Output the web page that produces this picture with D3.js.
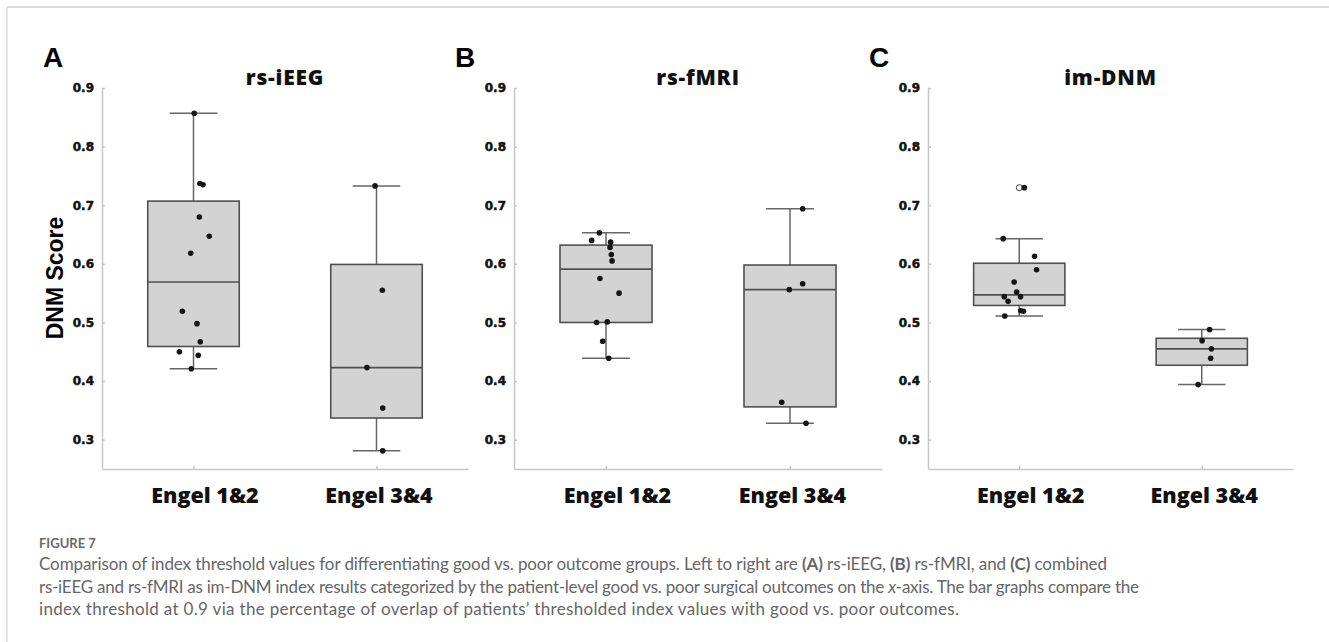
<!DOCTYPE html>
<html>
<head>
<meta charset="utf-8">
<script src="https://cdn.jsdelivr.net/npm/d3@7"></script>
<style>
	body{margin:0; background:#fff;}
</style>
</head>
<body>
<div id="chart"></div>
<script>
// categories and titles
const groups = ["Engel 1&2", "Engel 3&4"];
const panelLetters = ["A", "B", "C"];
const panelTitles = ["rs-iEEG", "rs-fMRI", "im-DNM"];
const yTicks = [0.3, 0.4, 0.5, 0.6, 0.7, 0.8, 0.9];

// box stats per group: [lower whisker, q1, median, q3, upper whisker]
const ieegStats = [[0.421, 0.459, 0.569, 0.707, 0.857], [0.281, 0.337, 0.423, 0.599, 0.733]];
const fmriStats = [[0.439, 0.500, 0.591, 0.632, 0.653], [0.328, 0.356, 0.556, 0.598, 0.694]];
const dnmStats = [[0.511, 0.529, 0.547, 0.601, 0.643], [0.394, 0.427, 0.455, 0.473, 0.488]];

// patient values and their horizontal jitter (category units) as seen in the figure
const ieegGood = [0.857, 0.737, 0.735, 0.680, 0.647, 0.618, 0.519, 0.498, 0.467, 0.450, 0.444, 0.421];
const ieegGoodJitter = [0.004, 0.035, 0.052, 0.032, 0.086, -0.015, -0.061, 0.019, 0.037, -0.077, 0.026, -0.012];
const ieegPoor = [0.733, 0.555, 0.423, 0.354, 0.281];
const ieegPoorJitter = [-0.008, 0.032, -0.052, 0.034, 0.034];

const fmriGood = [0.653, 0.640, 0.637, 0.628, 0.616, 0.605, 0.575, 0.550, 0.500, 0.501, 0.468, 0.439];
const fmriGoodJitter = [-0.036, -0.078, 0.025, 0.022, 0.029, 0.033, -0.033, 0.071, -0.051, 0.007, -0.018, 0.015];
const fmriPoor = [0.694, 0.566, 0.556, 0.364, 0.328];
const fmriPoorJitter = [0.069, 0.069, -0.004, -0.045, 0.087];

const dnmGood = [0.730, 0.643, 0.613, 0.590, 0.569, 0.552, 0.544, 0.544, 0.536, 0.520, 0.519, 0.511];
const dnmGoodJitter = [0.028, -0.088, 0.084, 0.095, -0.028, -0.014, -0.082, 0.007, -0.061, 0.008, 0.023, -0.079];
const dnmPoor = [0.488, 0.469, 0.455, 0.439, 0.394];
const dnmPoorJitter = [0.043, 0.002, 0.053, 0.049, -0.020];
const dnmGoodOutliers = [0.730];

const captionLines = [
	[["Comparison of index threshold values for differentiating good vs. poor outcome groups. Left to right are ", ""], ["(A)", "b"], [" rs-iEEG, ", ""], ["(B)", "b"], [" rs-fMRI, and ", ""], ["(C)", "b"], [" combined", ""]],
	[["rs-iEEG and rs-fMRI as im-DNM index results categorized by the patient-level good vs. poor surgical outcomes on the ", ""], ["x", "i"], ["-axis. The bar graphs compare the", ""]],
	[["index threshold at 0.9 via the percentage of overlap of patients\u2019 thresholded index values with good vs. poor outcomes.", ""]]
];

let panels = [
	{stats: ieegStats, points: [[ieegGood, ieegGoodJitter], [ieegPoor, ieegPoorJitter]], outliers: [[], []]},
	{stats: fmriStats, points: [[fmriGood, fmriGoodJitter], [fmriPoor, fmriPoorJitter]], outliers: [[], []]},
	{stats: dnmStats, points: [[dnmGood, dnmGoodJitter], [dnmPoor, dnmPoorJitter]], outliers: [dnmGoodOutliers, []]}
];

let W = 1329,
	H = 642,
	panelLeft = [102, 514, 928],
	panelRight = [468, 882, 1293],
	plotTop = 88,
	plotBottom = 469,
	axisColor = "#c6c6c6",
	boxStroke = "#505050",
	labelDx = [11, 2]; // the group labels sit a bit right of the ticks

let svg = d3.select("#chart").append("svg").attr("width", W).attr("height", H);

// figure frame: top and left rules
svg.append("line").attr("x1", 7).attr("x2", W).attr("y1", 7).attr("y2", 7)
	.attr("stroke", "#dcdcdc").attr("stroke-width", 2);
svg.append("line").attr("x1", 7).attr("x2", 7).attr("y1", 7).attr("y2", H)
	.attr("stroke", "#cfcfcf").attr("stroke-width", 1);

let y = d3.scaleLinear().domain([0.25, 0.9]).range([plotBottom, plotTop]);

panels.forEach(function(p, pi){
	let x = d3.scaleLinear().domain([0.5, 2.5]).range([panelLeft[pi], panelRight[pi]]),
		g = svg.append("g");

	// axes
	let yAxis = g.append("g")
		.attr("transform", "translate(" + panelLeft[pi] + ",0)")
		.call(d3.axisLeft(y).tickValues(yTicks).tickSize(-3).tickSizeOuter(0).tickPadding(8).tickFormat(d3.format(".1f")));
	yAxis.selectAll("path, line").attr("stroke", axisColor).attr("stroke-width", 1.5);
	yAxis.selectAll("text")
		.style("font-family", "'DejaVu Sans'")
		.style("font-weight", "bold")
		.style("font-size", "12px")
		.attr("fill", "#111")
		.attr("stroke", "#111")
		.attr("stroke-width", 0.5);

	let xAxis = g.append("g")
		.attr("transform", "translate(0," + plotBottom + ")")
		.call(d3.axisBottom(x).tickValues([1, 2]).tickSize(-3).tickSizeOuter(0).tickFormat(function(d){ return groups[d - 1]; }));
	xAxis.selectAll("path, line").attr("stroke", axisColor).attr("stroke-width", 1.5);
	xAxis.selectAll("text")
		.attr("y", 34)
		.attr("dy", 0)
		.attr("dx", function(d){ return labelDx[d - 1]; })
		.style("font-family", "'Open Sans'")
		.style("font-weight", "800")
		.style("font-size", "21.5px")
		.attr("fill", "#111");

	// titles
	g.append("text")
		.attr("x", (panelLeft[pi] + panelRight[pi]) / 2)
		.attr("y", 85)
		.attr("text-anchor", "middle")
		.style("font-family", "'Open Sans'")
		.style("font-weight", "800")
		.style("font-size", "21px")
		.style("letter-spacing", "0.8px")
		.attr("fill", "#111")
		.text(panelTitles[pi]);

	g.append("text")
		.attr("x", panelLeft[pi] - 59)
		.attr("y", 67)
		.style("font-family", "'Liberation Sans'")
		.style("font-weight", "bold")
		.style("font-size", "28px")
		.attr("fill", "#000")
		.text(panelLetters[pi]);

	// boxes
	p.stats.forEach(function(s, gi){
		let c = gi + 1,
			bg = g.append("g");
		bg.append("line").attr("x1", x(c)).attr("x2", x(c)).attr("y1", y(s[0])).attr("y2", y(s[1]))
			.attr("stroke", "#666").attr("stroke-width", 1.5);
		bg.append("line").attr("x1", x(c)).attr("x2", x(c)).attr("y1", y(s[3])).attr("y2", y(s[4]))
			.attr("stroke", "#666").attr("stroke-width", 1.5);
		[s[0], s[4]].forEach(function(v){
			bg.append("line").attr("x1", x(c - 0.13)).attr("x2", x(c + 0.13)).attr("y1", y(v)).attr("y2", y(v))
				.attr("stroke", "#666").attr("stroke-width", 1.5);
		});
		bg.append("rect")
			.attr("x", x(c - 0.25))
			.attr("y", y(s[3]))
			.attr("width", x(c + 0.25) - x(c - 0.25))
			.attr("height", y(s[1]) - y(s[3]))
			.attr("fill", "#d3d3d3")
			.attr("stroke", boxStroke)
			.attr("stroke-width", 1.6);
		bg.append("line").attr("x1", x(c - 0.25)).attr("x2", x(c + 0.25)).attr("y1", y(s[2])).attr("y2", y(s[2]))
			.attr("stroke", boxStroke).attr("stroke-width", 1.6);

		p.outliers[gi].forEach(function(v){
			bg.append("circle").attr("cx", x(c)).attr("cy", y(v)).attr("r", 3)
				.attr("fill", "#fff").attr("stroke", "#444").attr("stroke-width", 1);
		});

		let vals = p.points[gi][0], jit = p.points[gi][1];
		vals.forEach(function(v, vi){
			bg.append("circle")
				.attr("cx", x(c + jit[vi]))
				.attr("cy", y(v))
				.attr("r", 2.8)
				.attr("fill", "#151515");
		});
	});
});

// y label, only on the first panel
svg.append("text")
	.attr("transform", "translate(63,278) rotate(-90)")
	.attr("text-anchor", "middle")
	.style("font-family", "'Liberation Sans'")
	.style("font-weight", "bold")
	.style("font-size", "23px")
	.attr("fill", "#000")
	.text("DNM Score");

// caption
svg.append("text")
	.attr("x", 39).attr("y", 548)
	.style("font-family", "Lato")
	.style("font-weight", "bold")
	.style("font-size", "13px")
	.attr("fill", "#6a6a6a")
	.text("FIGURE 7");

let lineWidths = [1068, 1100, 920];
captionLines.forEach(function(parts, li){
	let t = svg.append("text")
		.attr("x", 39).attr("y", 570 + li * 22.5)
		.attr("textLength", lineWidths[li])
		.attr("lengthAdjust", "spacing")
		.style("font-family", "Lato")
		.style("font-size", "17px")
		.attr("fill", "#666");
	parts.forEach(function(pt){
		t.append("tspan")
			.style("font-weight", pt[1] === "b" ? "bold" : "normal")
			.style("font-style", pt[1] === "i" ? "italic" : "normal")
			.text(pt[0]);
	});
});
</script>
</body>
</html>
